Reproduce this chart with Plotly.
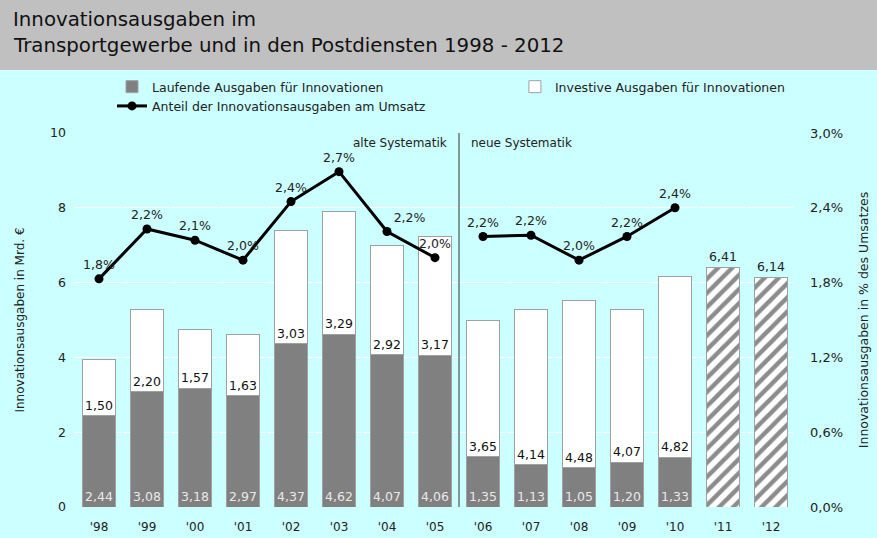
"""
Innovationsausgaben im Transportgewerbe und in den Postdiensten 1998 - 2012
"""
import plotly.graph_objects as go

# === Daten ===
jahre = ["'98", "'99", "'00", "'01", "'02", "'03", "'04", "'05",
         "'06", "'07", "'08", "'09", "'10", "'11", "'12"]
laufend = [2.44, 3.08, 3.18, 2.97, 4.37, 4.62, 4.07, 4.06,
           1.35, 1.13, 1.05, 1.20, 1.33, None, None]
investiv = [1.50, 2.20, 1.57, 1.63, 3.03, 3.29, 2.92, 3.17,
            3.65, 4.14, 4.48, 4.07, 4.82, None, None]
gesamt_prognose = [None] * 13 + [6.41, 6.14]
# Anteil am Umsatz (alte Systematik '98-'05, neue Systematik '06-'10)
anteil_alt = [0.0183, 0.0223, 0.0214, 0.0198, 0.0245, 0.0269, 0.0221, 0.0200]
anteil_neu = [0.0217, 0.0218, 0.0198, 0.0217, 0.0240]
anteil_alt_txt = ["1,8%", "2,2%", "2,1%", "2,0%", "2,4%", "2,7%", "2,2%", "2,0%"]
anteil_neu_txt = ["2,2%", "2,2%", "2,0%", "2,2%", "2,4%"]


def fmt(v):
    return "" if v is None else f"{v:.2f}".replace(".", ",")


FONT = "DejaVu Sans, Verdana, sans-serif"
CYAN = "#CCFFFF"
RAND = "#A0A0A0"
TEXT = "#222222"

fig = go.Figure()

# === Balken ===
fig.add_trace(go.Bar(
    x=jahre, y=laufend, name="Laufende Ausgaben für Innovationen",
    legend="legend",
    marker=dict(color="#808080", line=dict(color=RAND, width=1)),
    text=[fmt(v) for v in laufend], textposition="inside", textangle=0,
    insidetextanchor="start", constraintext="none",
    textfont=dict(color="#E8E8E8", size=12.5, family=FONT),
    width=0.68, hoverinfo="skip",
))
fig.add_trace(go.Bar(
    x=jahre, y=investiv, name="Investive Ausgaben für Innovationen",
    legend="legend2",
    marker=dict(color="white", line=dict(color=RAND, width=1)),
    text=[fmt(v) for v in investiv], textposition="inside", textangle=0,
    insidetextanchor="start", constraintext="none",
    textfont=dict(color="#111111", size=12.5, family=FONT),
    width=0.68, hoverinfo="skip",
))
fig.add_trace(go.Bar(
    x=jahre, y=gesamt_prognose, showlegend=False,
    marker=dict(color="white", line=dict(color=RAND, width=1),
                pattern=dict(shape="/", fgcolor="#8C8C8C", fgopacity=1,
                             bgcolor="white", size=10, solidity=0.45)),
    text=[fmt(v) for v in gesamt_prognose], textposition="outside", textangle=0,
    constraintext="none", cliponaxis=False,
    textfont=dict(color=TEXT, size=12.5, family=FONT),
    width=0.68, hoverinfo="skip",
))

# === Anteil am Umsatz ===
fig.add_trace(go.Scatter(
    x=jahre[:8], y=anteil_alt, yaxis="y2", mode="lines+markers+text",
    name="Anteil der Innovationsausgaben am Umsatz", legend="legend",
    line=dict(color="black", width=3), marker=dict(color="black", size=9),
    text=anteil_alt_txt,
    textposition=["top center"] * 6 + ["top right", "top center"],
    textfont=dict(color=TEXT, size=12.5, family=FONT),
    cliponaxis=False, hoverinfo="skip",
))
fig.add_trace(go.Scatter(
    x=jahre[8:13], y=anteil_neu, yaxis="y2", mode="lines+markers+text",
    showlegend=False,
    line=dict(color="black", width=3), marker=dict(color="black", size=9),
    text=anteil_neu_txt, textposition="top center",
    textfont=dict(color=TEXT, size=12.5, family=FONT),
    cliponaxis=False, hoverinfo="skip",
))

# === Trennlinie alte / neue Systematik ===
fig.add_shape(type="line", xref="x", yref="paper", x0=7.5, x1=7.5, y0=0, y1=1,
              line=dict(color="#333333", width=1))
fig.add_annotation(x=7.5, y=0.973, xref="x", yref="paper", text="alte Systematik",
                   showarrow=False, xanchor="right", yanchor="middle", xshift=-10,
                   font=dict(size=12, color=TEXT, family=FONT))
fig.add_annotation(x=7.5, y=0.973, xref="x", yref="paper", text="neue Systematik",
                   showarrow=False, xanchor="left", yanchor="middle", xshift=10,
                   font=dict(size=12, color=TEXT, family=FONT))

# === Titelband ===
fig.add_shape(type="rect", xref="paper", yref="paper", x0=-0.2, x1=1.2,
              y0=1.1684, y1=1.45, fillcolor="#C0C0C0", line_width=0, layer="below")
fig.add_annotation(x=-0.089, y=1.304, xref="paper", yref="paper",
                   text="Innovationsausgaben im", showarrow=False,
                   xanchor="left", yanchor="middle",
                   font=dict(size=19.8, color="#111111", family=FONT))
fig.add_annotation(x=-0.089, y=1.234, xref="paper", yref="paper",
                   text="Transportgewerbe und in den Postdiensten 1998 - 2012",
                   showarrow=False, xanchor="left", yanchor="middle",
                   font=dict(size=19.8, color="#111111", family=FONT))

legend_style = dict(orientation="v", yanchor="top", xanchor="left",
                    bgcolor="rgba(0,0,0,0)", traceorder="normal",
                    font=dict(size=12.5, family=FONT, color=TEXT),
                    tracegroupgap=0)

fig.update_layout(
    width=877, height=538,
    barmode="stack",
    separators=",.",
    font=dict(family=FONT, size=12, color=TEXT),
    paper_bgcolor=CYAN, plot_bgcolor=CYAN,
    margin=dict(l=75, r=82, t=133, b=31, autoexpand=False),
    showlegend=True,
    legend=dict(x=0.0514, y=1.163, **legend_style),
    legend2=dict(x=0.611, y=1.163, **legend_style),
    xaxis=dict(type="category", range=[-0.5, 14.5], showgrid=False,
               showline=False, ticks="", tickfont=dict(size=12),
               ticklabelstandoff=11, automargin=False),
    yaxis=dict(range=[0, 10], dtick=2, showgrid=True, gridcolor="white",
               griddash="46px,2px", gridwidth=1, zeroline=False, showline=False,
               ticks="", tickfont=dict(size=12.5), ticklabelstandoff=8,
               automargin=False,
               title=dict(text="Innovationsausgaben in Mrd. €",
                          font=dict(size=12), standoff=22)),
    yaxis2=dict(range=[0, 0.03], dtick=0.006, tickformat=".1%", overlaying="y",
                side="right", showgrid=False, zeroline=False, showline=False,
                ticks="", tickfont=dict(size=13), ticklabelstandoff=14,
                automargin=False,
                title=dict(text="Innovationsausgaben in % des Umsatzes",
                           font=dict(size=12.5), standoff=17)),
)

# Seitenrand des Browsers entfernen, damit die Grafik bündig bei 0,0 liegt
fig.write_html("out.html", config={"displayModeBar": False},
               post_script="document.body.style.margin='0';")
